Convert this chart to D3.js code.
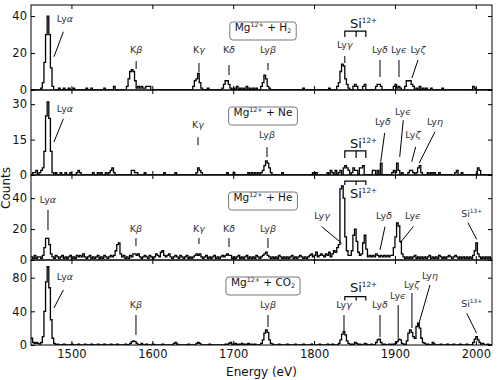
<!DOCTYPE html>
<html>
<head>
<meta charset="utf-8">
<script src="https://cdn.jsdelivr.net/npm/d3@7"></script>
<style>
  body { margin: 0; background: #fff; }
  text { font-family: "DejaVu Sans", sans-serif; }
</style>
</head>
<body>
<svg id="chart" width="499" height="380"></svg>
<script>
// spectra: [bin start (eV), counts], 2 eV bins, bins not listed are 0
const h2Counts = [
  [1462,1],[1464,4],[1466,15],[1468,30],[1470,40],[1472,30],[1474,12],[1476,2],
  [1484,1],[1490,1],[1496,1],[1502,1],[1518,1],[1524,1],[1540,1],[1552,2],
  [1568,2],[1570,6],[1572,10],[1574,11],[1576,10],[1578,5],[1580,1],[1582,2],[1584,1],[1586,2],
  [1588,1],[1590,1],[1592,2],[1594,2],[1596,2],
  [1650,2],[1652,5],[1654,6],[1656,9],[1658,4],[1660,1],[1668,1],
  [1686,1],[1688,3],[1690,5],[1692,5],[1694,3],[1696,1],[1700,1],[1704,2],[1708,1],[1712,1],
  [1716,2],[1720,1],[1724,1],[1728,1],
  [1734,2],[1736,4],[1738,8],[1740,6],[1742,2],[1744,1],[1786,1],[1818,1],
  [1828,2],[1830,4],[1832,10],[1834,14],[1836,13],[1838,6],[1840,3],[1842,1],
  [1848,2],[1850,3],[1852,2],[1860,2],[1862,3],[1876,2],[1878,3],[1880,3],[1882,2],
  [1898,2],[1900,3],[1902,1],[1904,2],[1906,1],
  [1912,2],[1914,5],[1916,5],[1918,5],[1920,3],[1922,2],[1926,1],[1930,2],[1934,1],[1938,1],
  [1944,1],[1958,1],[1996,2],[1998,1]
];
const neCounts = [
  [1452,1],[1454,1],[1456,2],[1460,1],[1462,2],[1464,3],[1466,10],[1468,25],[1470,31],[1472,24],
  [1474,10],[1476,1],
  [1480,1],[1486,1],[1492,1],[1498,1],[1506,1],[1508,2],[1510,1],[1526,1],[1532,1],[1536,1],
  [1542,1],[1546,1],[1548,2],[1550,3],[1552,1],
  [1574,2],[1576,2],[1578,1],[1580,1],[1590,1],[1614,1],[1628,1],[1654,1],[1656,3],[1658,2],
  [1660,1],[1692,1],[1700,1],[1718,1],
  [1722,1],[1726,1],[1730,1],[1734,1],[1736,2],[1738,4],[1740,6],[1742,5],[1744,3],[1746,1],[1760,1],
  [1798,1],[1802,1],[1816,1],[1820,2],[1822,1],[1826,2],[1830,1],[1832,2],[1836,3],[1838,4],
  [1840,3],[1842,2],[1846,1],[1848,3],[1850,2],[1852,2],[1856,3],[1858,3],[1860,4],
  [1872,2],[1874,2],[1878,2],[1882,5],[1896,1],[1898,2],[1900,1],[1902,5],[1904,2],[1908,1],
  [1916,1],[1918,2],[1920,2],[1922,1],[1926,1],[1928,3],[1930,4],[1932,1],[1940,1],[1944,1],
  [1948,1],[1954,1],[1974,1],[1976,2],[1982,1],[2002,3],[2004,2]
];
// He: every bin from 1450 eV on
const heCounts = [
  2,1,3,1,2,2,1,3,8,14,
  14,10,4,2,1,3,2,1,2,3,
  1,2,1,2,3,1,2,1,3,2,
  3,2,4,2,1,2,3,1,2,1,
  2,3,1,2,1,3,2,1,2,3,
  2,3,6,10,11,4,2,3,1,2,
  1,3,2,4,4,3,4,2,1,2,
  3,2,1,3,2,1,2,4,3,2,
  5,6,3,2,3,4,2,1,2,3,
  2,1,3,2,1,2,3,1,2,1,
  2,3,4,3,4,2,1,2,3,1,
  2,1,2,3,1,2,1,2,3,2,
  3,4,3,3,1,2,1,2,3,1,
  2,1,2,3,1,2,1,2,1,3,
  2,1,2,3,4,5,3,2,1,2,
  1,2,1,3,2,1,2,1,2,1,
  2,3,1,2,1,2,3,2,1,2,
  1,2,3,4,2,3,5,2,3,4,
  3,2,4,3,5,2,4,6,5,8,
  10,46,48,40,15,6,3,3,6,16,
  20,12,5,3,4,11,16,7,2,3,
  2,3,2,4,3,2,3,2,3,2,
  3,2,3,3,8,15,24,22,12,4,
  2,1,2,1,2,1,2,3,1,2,
  1,2,1,2,1,2,3,1,2,1,
  2,1,3,2,1,2,1,2,3,2,
  1,2,3,2,1,2,1,2,1,2,
  1,2,1,3,6,11,4,2,1,2,
  1,2,1,2,1
];
const co2Counts = [
  [1450,8],[1452,3],[1454,2],[1456,3],[1458,2],[1460,1],[1462,3],[1464,10],[1466,40],[1468,75],
  [1470,93],[1472,68],[1474,30],[1476,8],[1478,2],
  [1482,1],[1490,1],[1500,1],[1508,1],[1516,1],[1524,1],[1532,1],[1540,1],[1548,1],[1556,1],[1566,1],
  [1572,2],[1574,4],[1576,5],[1578,4],[1580,2],[1586,2],[1592,1],[1600,1],[1612,1],[1626,2],
  [1628,3],[1630,1],[1644,1],[1654,2],[1656,3],[1658,2],[1670,1],
  [1690,1],[1694,2],[1696,3],[1698,1],[1702,2],[1706,1],[1710,2],[1714,1],[1718,2],[1722,1],[1726,1],
  [1734,2],[1736,6],[1738,14],[1740,18],[1742,15],[1744,6],[1746,2],[1748,1],[1756,1],[1766,1],
  [1776,1],[1786,1],[1796,1],[1806,1],[1816,1],[1822,1],
  [1830,2],[1832,6],[1834,13],[1836,16],[1838,12],[1840,5],[1842,2],[1846,1],[1850,3],[1852,2],
  [1856,1],[1862,2],[1864,1],[1870,1],
  [1876,3],[1878,6],[1880,7],[1882,3],[1886,1],[1892,1],[1896,1],[1900,2],[1902,4],[1904,7],
  [1906,6],[1908,2],[1910,1],
  [1914,5],[1916,14],[1918,18],[1920,15],[1922,10],[1924,8],[1926,22],[1928,26],[1930,20],[1932,8],
  [1934,3],[1936,2],[1940,1],[1946,3],[1948,1],[1956,1],[1964,1],[1972,1],[1980,1],[1988,1],
  [1996,3],[1998,7],[2000,10],[2002,6],[2004,3],[2006,1],[2008,2],[2014,1]
];

const xTicks = [1500, 1600, 1700, 1800, 1900, 2000];
const siLines = [1838, 1852, 1864]; // Si12+ bracket legs (eV)

// line labels: text pos (eV, counts), pointer line [e1, c1, e2, c2]
const h2Notes = [
  { t: "Ly$α$", x: 1492, y: 36.8, l: [1490, 31.5, 1478.4, 18] },
  { t: "K$β$", x: 1580, y: 20, l: [1580, 15.7, 1580, 11.4] },
  { t: "K$γ$", x: 1657.7, y: 20, l: [1657.7, 14.6, 1657.7, 9.7] },
  { t: "K$δ$", x: 1694.8, y: 20, l: [1694.8, 13.5, 1694.8, 8.1] },
  { t: "Ly$β$", x: 1743, y: 20, l: [1743, 14.6, 1743, 10.8] },
  { t: "Ly$γ$", x: 1838, y: 22.7, l: [1838, 18.4, 1838, 14.6] },
  { t: "Ly$δ$", x: 1881.5, y: 20, l: [1881.5, 16.2, 1881.5, 7] },
  { t: "Ly$ϵ$", x: 1905, y: 20, l: [1905, 16.2, 1905, 7] },
  { t: "Ly$ζ$", x: 1928.5, y: 20, l: [1928.5, 16.2, 1921, 6.5] }
];
const neNotes = [
  { t: "Ly$α$", x: 1492, y: 26.5, l: [1490, 23.8, 1478.4, 14] },
  { t: "K$γ$", x: 1656.5, y: 19.7, l: [1656.5, 16, 1656.5, 12.6] },
  { t: "Ly$β$", x: 1741.8, y: 15.5, l: [1741.8, 11.8, 1741.8, 7.6] },
  { t: "Ly$δ$", x: 1885, y: 21.2, l: [1887.3, 17.8, 1882.4, 5.6] },
  { t: "Ly$ϵ$", x: 1910, y: 25.4, l: [1910.3, 23.2, 1905.9, 7.7] },
  { t: "Ly$ζ$", x: 1922.3, y: 15.5, l: [1925.6, 11.9, 1920.7, 5.6] },
  { t: "Ly$η$", x: 1949.5, y: 21.2, l: [1949.5, 18.3, 1930, 5.1] }
];
const heNotes = [
  { t: "Ly$α$", x: 1471, y: 36.9, l: [1471, 32.4, 1471, 19.4] },
  { t: "K$β$", x: 1579.8, y: 18.1, l: [1579.8, 14.2, 1579.8, 9.1] },
  { t: "K$γ$", x: 1657.7, y: 18.1, l: [1657.7, 14.2, 1657.7, 10.4] },
  { t: "K$δ$", x: 1694.8, y: 18.1, l: [1694.8, 14.2, 1694.8, 8.4] },
  { t: "Ly$β$", x: 1743, y: 18.1, l: [1743, 14.2, 1743, 7.8] },
  { t: "Ly$γ$", x: 1809.8, y: 26.5, l: [1809.4, 21.6, 1834.2, 10.8] },
  { t: "Ly$δ$", x: 1886.5, y: 26.5, l: [1887.7, 21.6, 1881.5, 6.5] },
  { t: "Ly$ϵ$", x: 1922.3, y: 26.5, l: [1922.7, 21.6, 1906.2, 11] },
  { t: "Si^{13+}", x: 1994.9, y: 28, l: [1990.3, 24.1, 2001, 13.4] }
];
const co2Notes = [
  { t: "Ly$α$", x: 1492, y: 77.2, l: [1490, 65.4, 1478.4, 44] },
  { t: "K$β$", x: 1579.8, y: 44, l: [1579.8, 35.6, 1579.8, 11.9] },
  { t: "Ly$β$", x: 1743, y: 44, l: [1743, 35.6, 1743, 21.4] },
  { t: "Ly$γ$", x: 1837, y: 44, l: [1837, 35.6, 1837, 15.8] },
  { t: "Ly$δ$", x: 1881.5, y: 44, l: [1881.5, 35.6, 1881.5, 9.5] },
  { t: "Ly$ϵ$", x: 1903.8, y: 54.7, l: [1904, 47.5, 1904, 8.3] },
  { t: "Ly$ζ$", x: 1920.7, y: 68, l: [1921, 61.8, 1921, 20.2] },
  { t: "Ly$η$", x: 1943.3, y: 78.4, l: [1943.3, 71.3, 1928.5, 21.7] },
  { t: "Si^{13+}", x: 1994.9, y: 45.5, l: [1988.7, 37.7, 2001, 13.9] }
];

const binStart = 1450, binWidth = 2, binEnd = 2020;
const sparseBins = (pairs) => {
  const m = new Map(pairs);
  return d3.range(binStart, binEnd, binWidth).map(e => [e, m.get(e) || 0]);
};
const denseBins = (vals) => vals.map((v, i) => [binStart + i * binWidth, v]);

const panels = [
  { label: "Mg^{12+} + H_{2}", bins: sparseBins(h2Counts), ymax: 46, ticks: [0, 20, 40], notes: h2Notes,
    si: { x: 1844.4, y: 33.5, top: 31.9, leg: 28.7 } },
  { label: "Mg^{12+} + Ne", bins: sparseBins(neCounts), ymax: 36, ticks: [0, 15, 30], notes: neNotes,
    si: { x: 1844.4, y: 11.4, top: 10.2, leg: 7.2 } },
  { label: "Mg^{12+} + He", bins: denseBins(heCounts), ymax: 55, ticks: [0, 20, 40], notes: heNotes,
    si: { x: 1844.4, y: 40.1, top: 51.1, leg: 48.5 } },
  { label: "Mg^{12+} + CO_{2}", bins: sparseBins(co2Counts), ymax: 101, ticks: [0, 40, 80], notes: co2Notes,
    si: { x: 1844.4, y: 63, top: 57.4, leg: 52.9 } }
];

const svg = d3.select("#chart");
const margin = { left: 31, right: 7, top: 5 };
const width = 499, panelH = 85;

const x = d3.scaleLinear().domain([binStart, binEnd]).range([margin.left, width - margin.right]);

// text with $italic$, ^{sup}, _{sub}
function rich(sel, str, size, supScale = 0.66) {
  const re = /(\^\{[^}]*\}|_\{[^}]*\}|\$[^$]*\$)/;
  let shift = 0;
  str.split(re).filter(s => s).forEach(s => {
    let kind = "n", t = s;
    if (s[0] === "^") { kind = "sup"; t = s.slice(2, -1); }
    else if (s[0] === "_") { kind = "sub"; t = s.slice(2, -1); }
    else if (s[0] === "$") { kind = "it"; t = s.slice(1, -1); }
    const target = kind === "sup" ? -size * 0.42 : kind === "sub" ? size * 0.22 : 0;
    const ts = sel.append("tspan").text(t).attr("dy", target - shift);
    shift = target;
    if (kind === "sup" || kind === "sub") ts.attr("font-size", size * supScale);
    if (kind === "it") ts.attr("font-style", "italic");
  });
}

panels.forEach((p, i) => {
  const top = margin.top + i * panelH;
  const y = d3.scaleLinear().domain([0, p.ymax]).range([top + panelH, top]);
  const g = svg.append("g");

  g.append("clipPath").attr("id", "clip" + i)
    .append("rect").attr("x", x.range()[0]).attr("y", top)
    .attr("width", x.range()[1] - x.range()[0]).attr("height", panelH);

  const pts = p.bins.concat([[binEnd, p.bins[p.bins.length - 1][1]]]);
  const line = d3.line().x(d => x(d[0])).y(d => y(d[1])).curve(d3.curveStepAfter);
  g.append("path").datum(pts)
    .attr("clip-path", `url(#clip${i})`)
    .attr("d", line)
    .attr("fill", "none").attr("stroke", "#000").attr("stroke-width", 1.3);

  // axes, ticks pointing inward
  const left = g.append("g").attr("transform", `translate(${x.range()[0]},0)`)
    .call(d3.axisLeft(y).tickValues(p.ticks).tickSize(-4).tickPadding(4));
  const right = g.append("g").attr("transform", `translate(${x.range()[1]},0)`)
    .call(d3.axisRight(y).tickValues(p.ticks).tickSize(-4).tickFormat(""));
  const topAx = g.append("g").attr("transform", `translate(0,${top})`)
    .call(d3.axisTop(x).tickValues(xTicks).tickSize(-4).tickFormat(""));
  const bottom = g.append("g").attr("transform", `translate(0,${top + panelH})`)
    .call(d3.axisBottom(x).tickValues(xTicks).tickSize(-4).tickPadding(5)
      .tickFormat(i === panels.length - 1 ? d3.format("d") : ""));
  [left, right, topAx, bottom].forEach(a => {
    a.select(".domain").remove();
    a.selectAll("line").attr("stroke", "#000");
    a.selectAll("text").attr("font-size", 11.5).attr("fill", "#111")
      .attr("font-family", "DejaVu Sans, sans-serif");
  });

  g.append("rect")
    .attr("x", x.range()[0]).attr("y", top)
    .attr("width", x.range()[1] - x.range()[0]).attr("height", panelH)
    .attr("fill", "none").attr("stroke", "#000").attr("stroke-width", 1);

  // boxed label
  const box = g.append("rect");
  const bt = g.append("text").attr("x", 263).attr("y", top + 26).attr("dy", "0.35em")
    .attr("text-anchor", "middle").attr("font-size", 10.5).attr("fill", "#111")
    .style("white-space", "pre");
  rich(bt, p.label, 10.5, 0.6);
  const bb = bt.node().getBBox();
  box.attr("x", bb.x - 5).attr("y", top + 17)
    .attr("width", bb.width + 10).attr("height", 18)
    .attr("rx", 3).attr("fill", "#fff").attr("stroke", "#777").attr("stroke-width", 1);

  // line labels
  p.notes.forEach(n => {
    g.append("line")
      .attr("x1", x(n.l[0])).attr("y1", y(n.l[1]))
      .attr("x2", x(n.l[2])).attr("y2", y(n.l[3]))
      .attr("stroke", "#000").attr("stroke-width", 1);
    const t = g.append("text").attr("x", x(n.x)).attr("y", y(n.y)).attr("dy", "0.35em")
      .attr("text-anchor", "middle").attr("font-size", 9.5).attr("fill", "#333");
    rich(t, n.t, 9.5, 0.62);
  });

  // Si12+ bracket
  const s = p.si;
  g.append("path")
    .attr("d", `M${x(siLines[0])},${y(s.leg)}V${y(s.top)}H${x(siLines[2])}V${y(s.leg)}` +
      `M${x(siLines[1])},${y(s.top)}V${y(s.leg)}`)
    .attr("fill", "none").attr("stroke", "#000").attr("stroke-width", 1.2);
  const st = g.append("text").attr("x", x(s.x)).attr("y", y(s.y))
    .attr("font-size", 13).attr("fill", "#111");
  rich(st, "Si^{12+}", 13, 0.55);
});

svg.append("text")
  .attr("x", (x.range()[0] + x.range()[1]) / 2).attr("y", 376)
  .attr("text-anchor", "middle").attr("font-size", 12).attr("fill", "#111")
  .text("Energy (eV)");

svg.append("text")
  .attr("transform", "translate(10,188) rotate(-90)")
  .attr("text-anchor", "middle").attr("font-size", 12).attr("fill", "#111")
  .text("Counts");
</script>
</body>
</html>
